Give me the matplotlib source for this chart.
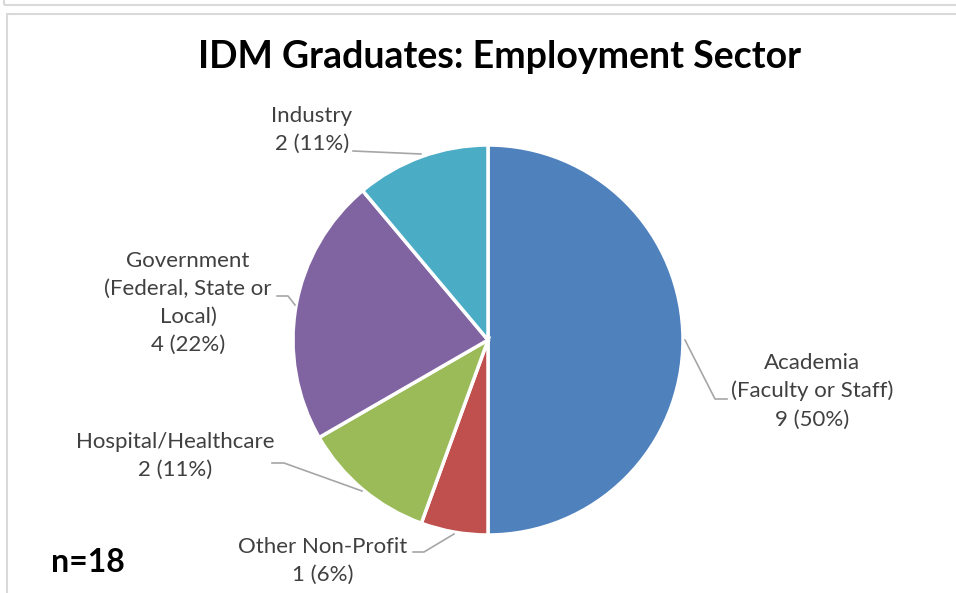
import matplotlib
matplotlib.use("Agg")
import matplotlib.pyplot as plt
from matplotlib.patches import Rectangle

# ---- data ----
categories = ["Academia\n(Faculty or Staff)", "Other Non-Profit", "Hospital/Healthcare",
              "Government\n(Federal, State or\nLocal)", "Industry"]
counts = [9, 1, 2, 4, 2]
colors = ["#4F81BD", "#C0504D", "#9BBB59", "#8064A2", "#4BACC6"]
title = "IDM Graduates: Employment Sector"
note = "n=18"

W, H = 956, 593
fig = plt.figure(figsize=(W / 100, H / 100), dpi=100)
ax = fig.add_axes([0, 0, 1, 1])

def Y(y):  # image-pixel y -> data y
    return H - y

cx, cy, r = 488, Y(340), 195
ax.pie(counts, colors=colors, startangle=90, counterclock=False,
       center=(cx, cy), radius=r,
       wedgeprops=dict(edgecolor="white", linewidth=2.5))
ax.set_xlim(0, W)
ax.set_ylim(0, H)
ax.set_aspect("equal")
ax.axis("off")

# frames
ax.add_patch(Rectangle((4, Y(5)), W + 40, 40, fill=False, edgecolor="#D9D9D9", lw=1.5, clip_on=False))
ax.add_patch(Rectangle((7, -20), W + 40, Y(14) + 20, fill=False, edgecolor="#D9D9D9", lw=1.5, clip_on=False))

total = sum(counts)
labels = [f"{c}\n{v} ({round(100 * v / total)}%)" for c, v in zip(categories, counts)]

font = "Lato"
lab_col = "#404040"
line_col = "#A6A6A6"
fs = 16.0
# label block centers in image pixels
pos = [(812, 391), (323, 561), (175, 456), (188, 303), (312, 130)]
for lab, (x, y) in zip(labels, pos):
    ax.text(x, Y(y), lab, ha="center", va="center", fontsize=fs, family=font,
            color=lab_col, linespacing=1.5)

leaders = [
    [(685, 340), (715, 399), (727, 399)],
    [(413, 552), (424, 552), (454, 534)],
    [(272, 463), (284, 463), (362, 491)],
    [(277, 296), (288, 296), (295, 305)],
    [(353, 151), (421, 154)],
]
for pts in leaders:
    ax.plot([p[0] for p in pts], [Y(p[1]) for p in pts], color=line_col, lw=1.2)

ax.text(500, Y(57), title, ha="center", va="center", fontsize=27, family=font,
        fontweight="bold", color="black")
ax.text(88, Y(563), note, ha="center", va="center", fontsize=23, family=font,
        fontweight="bold", color="black")

fig.savefig("out.png", dpi=100)
